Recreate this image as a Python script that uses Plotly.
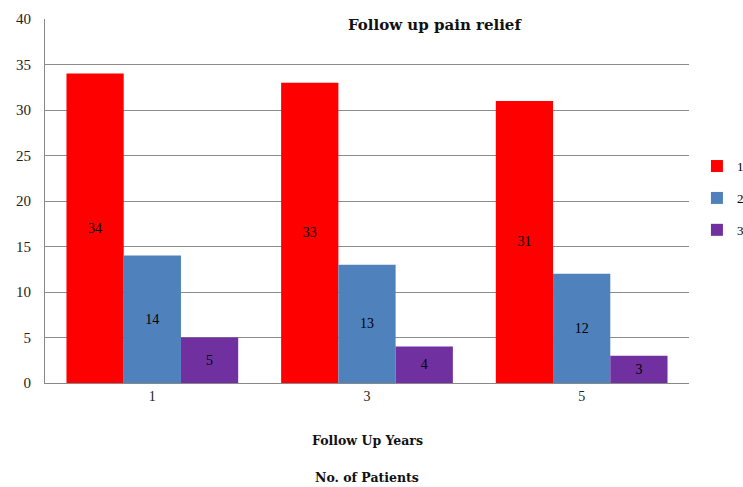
import plotly.graph_objects as go

years = ["1", "3", "5"]
series_names = ["1", "2", "3"]
series_values = [
    [34, 33, 31],
    [14, 13, 12],
    [5, 4, 3],
]
colors = ["#ff0000", "#4f81bd", "#7030a0"]
y_ticks = [0, 5, 10, 15, 20, 25, 30, 35, 40]

serif = "Liberation Serif"
heading = "DejaVu Serif"

fig = go.Figure()
for name, vals, col in zip(series_names, series_values, colors):
    fig.add_trace(go.Bar(
        x=years, y=vals, name=name, legendgroup=name,
        marker=dict(color=col, line=dict(width=0)),
        text=[str(v) for v in vals], textposition="inside",
        insidetextanchor="middle",
        textfont=dict(family=serif, size=14, color="#000000"),
    ))

fig.update_layout(
    width=743, height=487,
    margin=dict(l=45, r=54, t=19, b=104, autoexpand=False),
    paper_bgcolor="white", plot_bgcolor="white",
    barmode="group", bargap=0.2, bargroupgap=0,
    showlegend=True,
    legend=dict(xref="container", x=0.938, y=0.508,
                xanchor="left", yanchor="middle",
                font=dict(family=serif, size=13, color="#000"),
                tracegroupgap=12, itemwidth=30),
    font=dict(family=serif, size=14, color="#222"),
    xaxis=dict(type="category", showgrid=False, showline=True,
               linecolor="#888", linewidth=1, ticks="",
               tickfont=dict(family=serif, size=14, color="#222")),
    yaxis=dict(range=[0, 40], tickvals=y_ticks, showgrid=True,
               gridcolor="#8c8c8c", gridwidth=1, showline=True,
               linecolor="#888", linewidth=1, zeroline=False,
               ticks="", ticklabelstandoff=10,
               tickfont=dict(family=serif, size=15, color="#222")),
)

fig.add_annotation(text="<b>Follow up pain relief</b>", x=0.605, y=39.3,
                   xref="paper", yref="y", showarrow=False, yanchor="middle",
                   font=dict(family=heading, size=15, color="#111"))
fig.add_annotation(text="<b>Follow Up Years</b>", x=0.5, y=-0.157,
                   xref="paper", yref="paper", showarrow=False,
                   yanchor="middle",
                   font=dict(family=heading, size=12.5, color="#111"))
fig.add_annotation(text="<b>No. of Patients</b>", x=0.5, y=-0.26,
                   xref="paper", yref="paper", showarrow=False,
                   yanchor="middle",
                   font=dict(family=heading, size=12.5, color="#111"))

fig.write_html("out.html")
